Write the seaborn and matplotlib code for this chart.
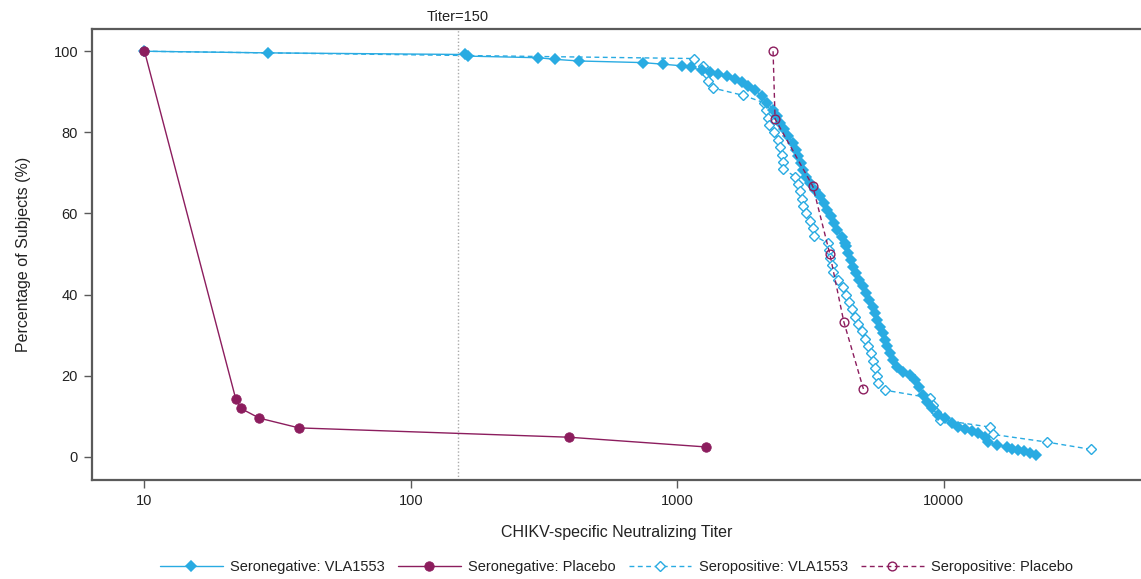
import numpy as np
import pandas as pd
import matplotlib
matplotlib.use("Agg")
import matplotlib.pyplot as plt
import seaborn as sns
from matplotlib.ticker import FixedLocator, FixedFormatter, NullLocator

# ---------------- data ----------------
sneg_vla_titer = [10, 29, 160, 164, 301, 348, 428, 743, 885, 1043, 1127, 1237, 1329,
                  1428, 1536, 1650, 1748, 1851, 1961, 2078, 2181, 2285, 2365, 2434,
                  2519, 2615, 2716, 2795, 2851, 2911, 2962, 3047, 3154, 3293, 3439,
                  3560, 3663, 3772, 3881, 3994, 4148, 4268, 4305, 4391, 4484, 4585,
                  4694, 4830, 4974, 5118, 5266, 5423, 5532, 5643, 5776, 5913, 6032,
                  6152, 6299, 6481, 6709, 7066, 7487, 7816, 8112, 8353, 8647, 9030,
                  9561, 10130, 10740, 11360, 12040, 12760, 13510, 14310, 14730, 15840,
                  17270, 18030, 19090, 20060, 21120, 22250]
sneg_vla_pct = [100, 99.6, 99.2, 98.8, 98.4, 98.0, 97.6, 97.2, 96.8, 96.4, 96.0, 95.3,
                94.8, 94.5, 94.0, 93.2, 92.4, 91.5, 90.4, 88.9, 87.3, 85.6, 84.0, 82.3,
                80.7, 79.0, 77.4, 75.7, 74.1, 72.4, 70.8, 69.1, 67.5, 65.9, 64.2, 62.6,
                60.9, 59.3, 57.6, 56.0, 54.3, 52.7, 51.9, 50.2, 48.6, 46.9, 45.3, 43.6,
                42.0, 40.3, 38.7, 37.0, 35.4, 33.8, 32.1, 30.5, 28.8, 27.2, 25.5, 23.9,
                22.2, 21.0, 20.2, 18.9, 17.3, 15.2, 13.6, 11.9, 10.3, 9.5, 8.4, 7.4, 6.8,
                6.3, 5.8, 4.8, 3.5, 2.9, 2.5, 1.8, 1.7, 1.4, 0.8, 0.4]

sneg_pbo_titer = [10, 22, 23, 27, 38, 392, 1282]
sneg_pbo_pct = [100, 14.3, 11.9, 9.5, 7.1, 4.8, 2.4]

spos_vla_titer = [10, 1155, 1254, 1292, 1310, 1367, 1773, 2120, 2157, 2194, 2220, 2300,
                  2390, 2434, 2476, 2504, 2504, 2771, 2851, 2893, 2936, 2976, 3047, 3154,
                  3246, 3264, 3670, 3718, 3750, 3813, 3857, 4018, 4195, 4305, 4419, 4535,
                  4654, 4777, 4945, 5075, 5221, 5345, 5452, 5532, 5604, 5692, 6032, 8897,
                  9155, 9371, 9700, 14940, 15300, 24420, 35790]
spos_vla_pct = [100, 98.2, 96.4, 94.5, 92.7, 90.9, 89.1, 87.3, 85.5, 83.6, 81.8, 80.0,
                78.2, 76.4, 74.5, 72.7, 70.9, 69.1, 67.3, 65.5, 63.6, 61.8, 60.0, 58.2,
                56.4, 54.5, 52.7, 50.9, 49.1, 47.3, 45.5, 43.6, 41.8, 40.0, 38.2, 36.4,
                34.5, 32.7, 30.9, 29.1, 27.3, 25.5, 23.6, 21.8, 20.0, 18.2, 16.4, 14.5,
                12.7, 10.9, 9.1, 7.3, 5.5, 3.6, 1.8]

spos_pbo_titer = [2290, 2330, 3230, 3740, 4220, 5000]
spos_pbo_pct = [100, 83.3, 66.7, 50.0, 33.3, 16.7]

labels = ["Seronegative: VLA1553", "Seronegative: Placebo",
          "Seropositive: VLA1553", "Seropositive: Placebo"]
x_ticks = [10, 100, 1000, 10000]
x_tick_labels = ["10", "100", "1000", "10000"]
y_ticks = [0, 20, 40, 60, 80, 100]
ref_titer = 150

# ---------------- style ----------------
sns.set_style("ticks")
plt.rcParams["font.family"] = ["Liberation Sans", "DejaVu Sans"]

BLUE = "#29ABE2"
PURPLE = "#8C1D5E"
SPINE = "#5a5a5a"

fig = plt.figure(figsize=(11.41, 5.79), dpi=100)
ax = fig.add_axes([0.0806, 0.171, 0.9194, 0.779])

sns.lineplot(x=sneg_vla_titer, y=sneg_vla_pct, ax=ax, sort=False, estimator=None,
             color=BLUE, linewidth=1.0, marker="D", markersize=5.6,
             markerfacecolor=BLUE, markeredgecolor=BLUE, markeredgewidth=1.1,
             label=labels[0], zorder=2.2)
sns.lineplot(x=sneg_pbo_titer, y=sneg_pbo_pct, ax=ax, sort=False, estimator=None,
             color=PURPLE, linewidth=1.0, marker="o", markersize=6.8,
             markerfacecolor=PURPLE, markeredgecolor=PURPLE, markeredgewidth=0.6,
             label=labels[1], zorder=3)
sns.lineplot(x=spos_vla_titer, y=spos_vla_pct, ax=ax, sort=False, estimator=None,
             color=BLUE, linewidth=1.0, linestyle=(0, (3.5, 2.5)), marker="D",
             markersize=4.6, markerfacecolor="white", markeredgecolor=BLUE,
             markeredgewidth=1.0, label=labels[2], zorder=2.0)
sns.lineplot(x=spos_pbo_titer, y=spos_pbo_pct, ax=ax, sort=False, estimator=None,
             color=PURPLE, linewidth=1.0, linestyle=(0, (3.5, 2.5)), marker="o",
             markersize=6.3, markerfacecolor="none", markeredgecolor=PURPLE,
             markeredgewidth=1.0, label=labels[3], zorder=3.1)

# reference line
ax.axvline(ref_titer, color="#aaaaaa", linestyle=(0, (1, 1.5)), linewidth=1.0, zorder=0)
ax.text(ref_titer, 1.012, "Titer=150", transform=ax.get_xaxis_transform(),
        ha="center", va="bottom", fontsize=10.5, color="#222222")

ax.set_xscale("log")
ax.set_xlim(6.35, 55100)
ax.set_ylim(-5.75, 105.5)
ax.xaxis.set_major_locator(FixedLocator(x_ticks))
ax.xaxis.set_major_formatter(FixedFormatter(x_tick_labels))
ax.xaxis.set_minor_locator(NullLocator())
ax.set_yticks(y_ticks)

for s in ["left", "top", "bottom"]:
    ax.spines[s].set_color(SPINE)
    ax.spines[s].set_linewidth(1.6)
ax.spines["right"].set_visible(False)
ax.tick_params(axis="both", which="major", length=6, width=1.0, color=SPINE,
               labelsize=10.5, labelcolor="#222222", pad=4, direction="out")

ax.set_xlabel("CHIKV-specific Neutralizing Titer", fontsize=11.5, color="#222222",
              labelpad=12)
ax.set_ylabel("Percentage of Subjects (%)", fontsize=11.5, color="#222222", labelpad=16)

leg = ax.legend(loc="center", bbox_to_anchor=(0.5, -0.193), ncol=4, frameon=False,
                fontsize=10.5, handlelength=4.3, handletextpad=0.5, columnspacing=0.9,
                numpoints=1)
for t in leg.get_texts():
    t.set_color("#222222")

fig.savefig("out.png", dpi=100)
